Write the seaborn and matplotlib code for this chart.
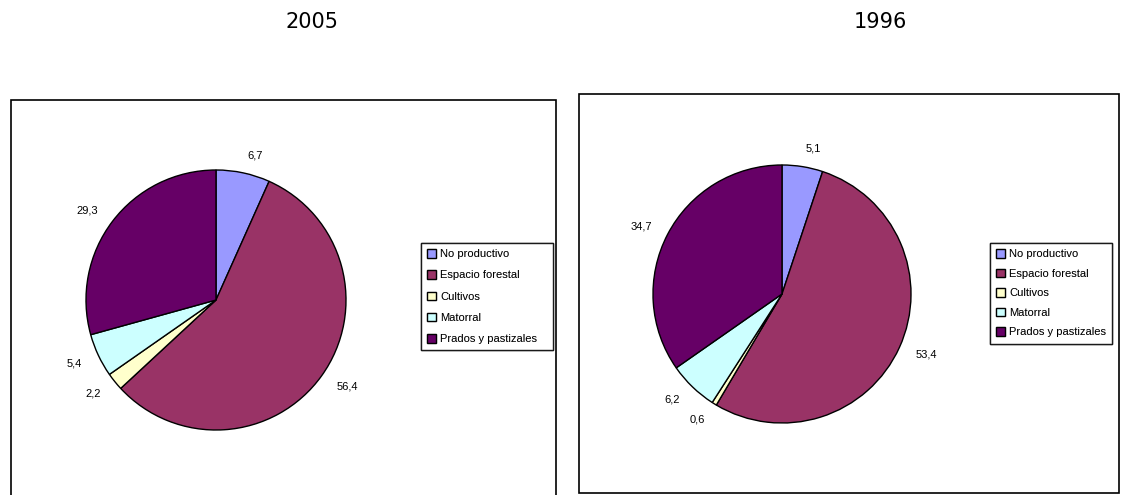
import matplotlib
matplotlib.use("Agg")
import matplotlib.pyplot as plt
import seaborn as sns
from matplotlib.patches import Rectangle

sns.set_style("white")
plt.rcParams['font.family'] = ['Liberation Sans', 'DejaVu Sans']
plt.rcParams['text.color'] = 'black'

categories = ["No productivo", "Espacio forestal", "Cultivos", "Matorral", "Prados y pastizales"]
legend_labels = ["No productivo", "Espacio forestal", "Cultivos", "Matorral", "Prados y pastizales"]
values_2005 = [6.7, 56.4, 2.2, 5.4, 29.3]
values_1996 = [5.1, 53.4, 0.6, 6.2, 34.7]
years = ["2005", "1996"]
colors = ["#9999FF", "#993366", "#FFFFCC", "#CCFFFF", "#660066"]

W, H = 1122, 495
fig = plt.figure(figsize=(W / 100, H / 100), dpi=100)
fig.patch.set_facecolor("white")

def fx(px):
    return px / W

def fy(py):
    return 1 - py / H

# panel frames
for (x0, y0, x1, y1) in [(11, 100, 556, 497), (579, 94, 1119, 493)]:
    fig.patches.append(Rectangle((fx(x0), fy(y1)), fx(x1 - x0), (y1 - y0) / H,
                                 transform=fig.transFigure, fill=False,
                                 edgecolor="black", linewidth=1.2))

panels = [
    dict(vals=values_2005, title=years[0], cx=216, cy=300, r=130, tx=312,
         leg=(421, 243, 553, 352), sp=1.0),
    dict(vals=values_1996, title=years[1], cx=782, cy=294, r=129, tx=880,
         leg=(990, 243, 1112, 346), sp=0.85),
]

for p in panels:
    ext = 1.5
    half = p["r"] * ext
    ax = fig.add_axes([fx(p["cx"] - half), fy(p["cy"] + half), 2 * half / W, 2 * half / H])
    labels = [f"{v:.1f}".replace(".", ",") for v in p["vals"]]
    wedges, texts = ax.pie(p["vals"], colors=colors, startangle=90, counterclock=False,
                           labels=labels, labeldistance=1.14,
                           wedgeprops=dict(edgecolor="black", linewidth=1.0),
                           textprops=dict(fontsize=8, color="black"))
    ax.set_xlim(-ext, ext)
    ax.set_ylim(-ext, ext)
    ax.set_aspect("equal")
    ax.axis("off")
    fig.text(fx(p["tx"]), fy(22), p["title"], ha="center", va="center", fontsize=15,
             family=["DejaVu Sans"], color="black")
    lx0, ly0, lx1, ly1 = p["leg"]
    leg = fig.legend(wedges, legend_labels,
                     loc="upper left",
                     bbox_to_anchor=(fx(lx0), fy(ly1), fx(lx1 - lx0), (ly1 - ly0) / H),
                     mode="expand", fontsize=8, frameon=True, fancybox=False,
                     edgecolor="black", handlelength=0.8, handleheight=0.8,
                     handletextpad=0.4, labelspacing=p["sp"], borderpad=0.55,
                     borderaxespad=0, labelcolor="black")
    leg.get_frame().set_linewidth(1.0)
    leg.get_frame().set_boxstyle("square", pad=0)
    fig.add_artist(leg)

fig.savefig("out.png", dpi=100, facecolor="white")
